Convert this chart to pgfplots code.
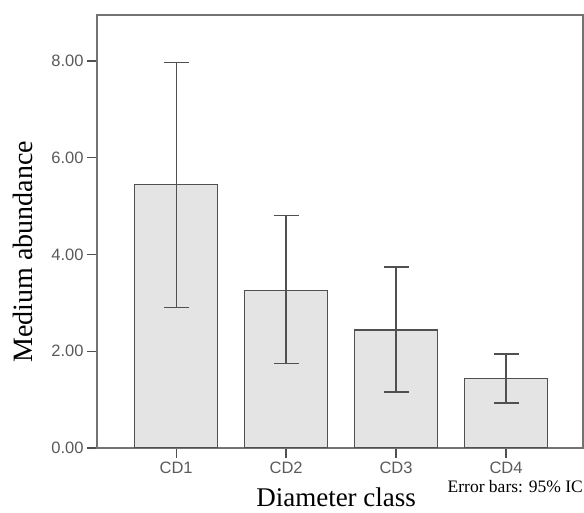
\documentclass[border=0pt]{standalone}
\usepackage{fontspec}
\setmainfont{Liberation Serif}
\newfontfamily\arialfont{Liberation Sans}
\usepackage{pgfplots}
\pgfplotsset{compat=1.18}
\definecolor{barfill}{RGB}{228,228,228}
\definecolor{edge}{RGB}{80,80,80}
\definecolor{ticktext}{RGB}{90,90,90}

\begin{document}
\begin{tikzpicture}
\path[use as bounding box] (-97pt,-65pt) rectangle (487pt,448pt);
\begin{axis}[
    at={(0pt,0pt)}, anchor=south west,
    scale only axis, width=486pt, height=433pt,
    xmin=0.28, xmax=4.70, ymin=0, ymax=8.95,
    ybar, bar width=83pt,
    xtick={1,2,3,4}, xticklabels={CD1,CD2,CD3,CD4},
    ytick={0,2,4,6,8},
    tick align=outside, major tick length=10pt,
    xtick pos=left, ytick pos=left,
    tick style={edge, line width=1.3pt},
    axis line style={black!55, line width=1.3pt},
    tick label style={font=\arialfont\fontsize{16.5}{16.5}\selectfont, text=ticktext},
    yticklabel style={/pgf/number format/.cd, fixed, fixed zerofill, precision=2, assume math mode=true},
    xlabel={Diameter class},
    xlabel style={at={(axis description cs:0.492,-0.1340)}, anchor=base, inner sep=0pt,
                  font=\fontsize{27}{27}\selectfont},
    ylabel={Medium abundance},
    ylabel style={at={(axis description cs:-0.1523,0.453)}, anchor=center,
                  font=\fontsize{28}{28}\selectfont},
  ]
  \addplot[draw=edge, fill=barfill, line width=1.3pt,
           error bars/.cd, y dir=both, y explicit,
           error bar style={edge, line width=1.3pt},
           error mark options={rotate=90, mark size=12.5pt, edge, line width=1.3pt}]
    coordinates {
      (1,5.45) += (0,2.52) -= (0,2.54)
      (2,3.26) += (0,1.55) -= (0,1.52)
      (3,2.44) += (0,1.30) -= (0,1.28)
      (4,1.43) += (0,0.51) -= (0,0.50)
    };
\end{axis}
\node[anchor=base east, inner sep=0pt, font=\fontsize{17.5}{17.5}\selectfont]
  at (486pt,-45pt) {Error bars: 95\% IC};
\end{tikzpicture}
\end{document}
